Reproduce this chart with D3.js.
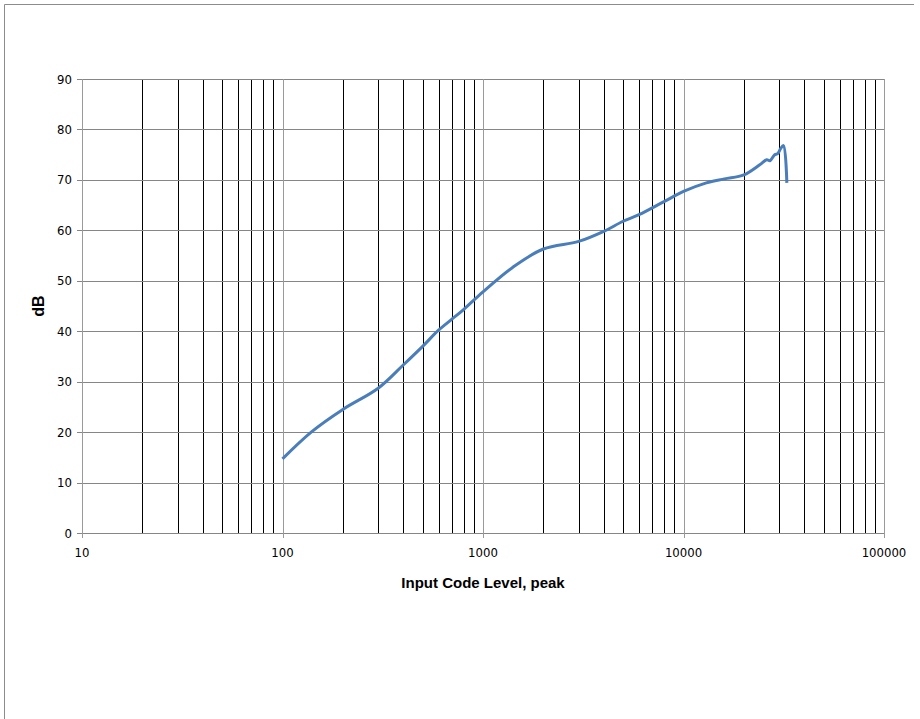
<!DOCTYPE html>
<html lang="en">
<head>
  <meta charset="UTF-8">
  <title>dB vs Input Code Level</title>
  <script src="https://d3js.org/d3.v7.min.js"></script>
  <style>
    body { margin: 0; background: #fff; }
    text { font-family: "DejaVu Sans Condensed", "Liberation Sans", sans-serif; }
  </style>
</head>
<body>
  <svg id="chart" width="920" height="719"></svg>

  <script>
    // data
    const codeLevel = [100, 140, 200, 300, 400, 500, 600, 700, 800, 1000, 1400, 2000, 3000, 4000,
                       5000, 6000, 8000, 10000, 13000, 16000, 20000, 24000, 26000, 27000, 28500,
                       29500, 30500, 31500, 32767];
    const dBValues  = [14.7, 20.1, 24.5, 28.7, 33.3, 37.0, 40.2, 42.4, 44.3, 47.8, 52.6, 56.3, 57.8, 59.8,
                       61.8, 63.1, 65.7, 67.7, 69.4, 70.2, 71.0, 73.0, 74.0, 73.8, 75.0,
                       75.2, 76.2, 76.8, 69.4];
    const xTicks = [10, 100, 1000, 10000, 100000];
    const yTicks = [0, 10, 20, 30, 40, 50, 60, 70, 80, 90];

    const data = codeLevel.map((d, i) => ({x: d, y: dBValues[i]}));

    const svg = d3.select("#chart");

    // outer chart border
    svg.append("path")
      .attr("d", "M4.5,719 L4.5,4.5 L914,4.5")
      .attr("fill", "none")
      .attr("stroke", "#8c8c8c")
      .attr("stroke-width", 1);

    const x = d3.scaleLog()
      .domain([10, 100000])
      .range([82, 884]);

    const y = d3.scaleLinear()
      .domain([0, 90])
      .range([533, 79]);

    // minor vertical gridlines (black)
    const minor = x.ticks().filter(d => xTicks.indexOf(d) < 0);
    svg.append("g")
      .selectAll("line")
      .data(minor)
      .join("line")
        .attr("x1", d => Math.round(x(d)) + 0.5)
        .attr("x2", d => Math.round(x(d)) + 0.5)
        .attr("y1", y(90))
        .attr("y2", y(0))
        .attr("stroke", "#000")
        .attr("stroke-width", 1);

    // horizontal gridlines
    svg.append("g")
      .selectAll("line")
      .data(yTicks)
      .join("line")
        .attr("x1", x(10) - 5)
        .attr("x2", x(100000))
        .attr("y1", d => Math.round(y(d)) + 0.5)
        .attr("y2", d => Math.round(y(d)) + 0.5)
        .attr("stroke", "#868686")
        .attr("stroke-width", 1);

    // major vertical gridlines (gray) + ticks
    svg.append("g")
      .selectAll("line")
      .data(xTicks)
      .join("line")
        .attr("x1", d => Math.round(x(d)) + 0.5)
        .attr("x2", d => Math.round(x(d)) + 0.5)
        .attr("y1", y(90))
        .attr("y2", y(0) + 5)
        .attr("stroke", "#9a9a9a")
        .attr("stroke-width", 1);

    // tick labels
    svg.append("g")
      .selectAll("text")
      .data(yTicks)
      .join("text")
        .attr("x", x(10) - 10)
        .attr("y", d => y(d) + 4.5)
        .attr("text-anchor", "end")
        .attr("font-size", 13)
        .attr("fill", "#000")
        .text(d => d);

    svg.append("g")
      .selectAll("text")
      .data(xTicks)
      .join("text")
        .attr("x", d => x(d))
        .attr("y", y(0) + 24)
        .attr("text-anchor", "middle")
        .attr("font-size", 13)
        .attr("fill", "#000")
        .text(d => d);

    // axis titles
    svg.append("text")
      .attr("x", (x(10) + x(100000)) / 2)
      .attr("y", 588)
      .attr("text-anchor", "middle")
      .attr("font-size", 15)
      .attr("font-weight", "bold")
      .style("font-family", "'Liberation Sans', Arial, sans-serif")
      .text("Input Code Level, peak");

    svg.append("text")
      .attr("transform", `translate(44,${(y(0) + y(90)) / 2}) rotate(-90)`)
      .attr("text-anchor", "middle")
      .attr("font-size", 16)
      .attr("font-weight", "bold")
      .style("font-family", "'Liberation Sans', Arial, sans-serif")
      .text("dB");

    // the curve
    const line = d3.line()
      .x(d => x(d.x))
      .y(d => y(d.y))
      .curve(d3.curveCatmullRom.alpha(0.5));

    svg.append("path")
      .datum(data)
      .attr("fill", "none")
      .attr("stroke", "#4a7ebb")
      .attr("stroke-width", 3)
      .attr("stroke-linejoin", "round")
      .attr("d", line);
  </script>
</body>
</html>
